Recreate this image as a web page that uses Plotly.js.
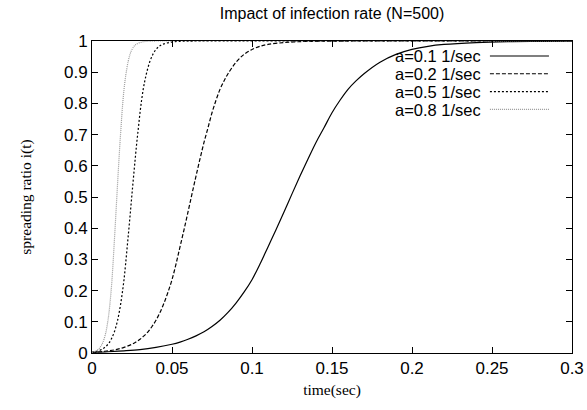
<!DOCTYPE html>
<html>
<head>
<meta charset="utf-8">
<script src="https://cdn.plot.ly/plotly-3.0.1.min.js"></script>
<style>html,body{margin:0;padding:0;background:#fff;}#chart{width:587px;height:410px;}</style>
</head>
<body>
<div id="chart"></div>
<script>
// Series names
var seriesNames = ["a=0.1 1/sec", "a=0.2 1/sec", "a=0.5 1/sec", "a=0.8 1/sec"];

// a=0.1
var t1 = [0,0.01,0.02,0.03,0.04,0.05,0.055,0.06,0.065,0.07,0.075,0.08,0.085,0.09,0.095,0.1,0.105,0.11,0.115,0.12,0.125,0.13,0.135,0.14,0.145,0.15,0.155,0.16,0.165,0.17,0.18,0.19,0.2,0.21,0.22,0.24,0.26,0.28,0.3];
var i1 = [0.002,0.004,0.007,0.011,0.018,0.028,0.035,0.044,0.055,0.068,0.085,0.105,0.13,0.16,0.195,0.235,0.285,0.34,0.395,0.452,0.51,0.567,0.622,0.675,0.722,0.77,0.81,0.845,0.872,0.895,0.932,0.957,0.973,0.983,0.989,0.995,0.998,0.999,0.9997];

// a=0.2
var t2 = [0,0.005,0.01,0.015,0.02,0.025,0.0275,0.03,0.0325,0.035,0.0375,0.04,0.0425,0.045,0.0475,0.05,0.0525,0.055,0.0575,0.06,0.0625,0.065,0.0675,0.07,0.0725,0.075,0.0775,0.08,0.0825,0.085,0.09,0.095,0.1,0.105,0.11,0.12,0.13,0.14,0.15,0.3];
var i2 = [0.002,0.004,0.007,0.011,0.018,0.028,0.035,0.044,0.055,0.068,0.085,0.105,0.13,0.16,0.195,0.235,0.285,0.34,0.395,0.452,0.51,0.567,0.622,0.675,0.722,0.77,0.81,0.845,0.872,0.895,0.932,0.957,0.973,0.983,0.989,0.995,0.998,0.999,0.9997,1.0];

// a=0.5
var t3 = [0,0.002,0.004,0.006,0.008,0.01,0.011,0.012,0.013,0.014,0.015,0.016,0.017,0.018,0.019,0.02,0.021,0.022,0.023,0.024,0.025,0.026,0.027,0.028,0.029,0.03,0.031,0.032,0.033,0.034,0.036,0.038,0.04,0.042,0.044,0.048,0.052,0.056,0.06,0.3];
var i3 = [0.002,0.004,0.007,0.011,0.018,0.028,0.035,0.044,0.055,0.068,0.085,0.105,0.13,0.16,0.195,0.235,0.285,0.34,0.395,0.452,0.51,0.567,0.622,0.675,0.722,0.77,0.81,0.845,0.872,0.895,0.932,0.957,0.973,0.983,0.989,0.995,0.998,0.999,0.9997,1.0];

// a=0.8
var t4 = [0,0.00125,0.0025,0.00375,0.005,0.00625,0.006875,0.0075,0.008125,0.00875,0.009375,0.01,0.010625,0.01125,0.011875,0.0125,0.013125,0.01375,0.014375,0.015,0.015625,0.01625,0.016875,0.0175,0.018125,0.01875,0.019375,0.02,0.020625,0.02125,0.0225,0.02375,0.025,0.02625,0.0275,0.03,0.0325,0.035,0.0375,0.3];
var i4 = [0.002,0.004,0.007,0.011,0.018,0.028,0.035,0.044,0.055,0.068,0.085,0.105,0.13,0.16,0.195,0.235,0.285,0.34,0.395,0.452,0.51,0.567,0.622,0.675,0.722,0.77,0.81,0.845,0.872,0.895,0.932,0.957,0.973,0.983,0.989,0.995,0.998,0.999,0.9997,1.0];

var xTicks = [0,0.05,0.1,0.15,0.2,0.25,0.3];
var xTickText = ["0","0.05","0.1","0.15","0.2","0.25","0.3"];
var yTicks = [0,0.1,0.2,0.3,0.4,0.5,0.6,0.7,0.8,0.9,1];
var yTickText = ["0","0.1","0.2","0.3","0.4","0.5","0.6","0.7","0.8","0.9","1"];

var styles = [
  {color: "#000000", dash: "solid"},
  {color: "#000000", dash: "4px,2px"},
  {color: "#000000", dash: "2px,2px"},
  {color: "#9a9a9a", dash: "1px,1px"}
];

var xs = [t1, t2, t3, t4];
var ys = [i1, i2, i3, i4];

var traces = [];
for (var k = 0; k < 4; k++) {
  traces.push({
    x: xs[k], y: ys[k], name: seriesNames[k], type: "scatter", mode: "lines",
    line: {color: styles[k].color, dash: styles[k].dash, width: 1.2, shape: "spline", smoothing: 1},
    showlegend: false, hoverinfo: "skip"
  });
}

// custom gnuplot-style legend: right-aligned text, sample line on the right
var annotations = [];
var shapes = [];
var rowY = [0.952, 0.895, 0.838, 0.781];
for (var k = 0; k < 4; k++) {
  annotations.push({
    xref: "paper", yref: "paper", x: 0.8125, y: rowY[k], xanchor: "right", yanchor: "middle",
    text: seriesNames[k], showarrow: false, height: 17, borderpad: 0,
    font: {family: "Liberation Sans, Arial, sans-serif", size: 16.5, color: "#000"}
  });
  shapes.push({
    type: "line", xref: "paper", yref: "paper", x0: 0.829, x1: 0.952, y0: rowY[k], y1: rowY[k],
    line: {color: styles[k].color, dash: styles[k].dash, width: 1.2}
  });
}

var axisCommon = {
  showline: true, linecolor: "#000", linewidth: 1, mirror: "ticks",
  ticks: "inside", ticklen: 6, tickwidth: 1, tickcolor: "#000",
  showgrid: false, zeroline: false,
  tickfont: {family: "Liberation Sans, Arial, sans-serif", size: 17, color: "#000"}
};

var layout = {
  width: 587, height: 410,
  margin: {l: 92, r: 15, t: 41, b: 57},
  paper_bgcolor: "#fff", plot_bgcolor: "#fff",
  font: {family: "Liberation Sans, Arial, sans-serif", size: 16, color: "#000"},
  title: {
    text: "Impact of infection rate (N=500)",
    xref: "paper", x: 0.5, xanchor: "center",
    yref: "container", y: 0.968, yanchor: "middle",
    font: {family: "Liberation Sans, Arial, sans-serif", size: 16, color: "#000"}
  },
  xaxis: Object.assign({}, axisCommon, {
    range: [0, 0.3], tickvals: xTicks, ticktext: xTickText,
    title: {text: "time(sec)", standoff: 6, font: {family: "Liberation Serif, Times New Roman, serif", size: 15.5, color: "#000"}}
  }),
  yaxis: Object.assign({}, axisCommon, {
    range: [0, 1], tickvals: yTicks, ticktext: yTickText,
    title: {text: "spreading ratio i(t)", standoff: 28, font: {family: "Liberation Serif, Times New Roman, serif", size: 15.5, color: "#000"}}
  }),
  annotations: annotations,
  shapes: shapes
};

Plotly.newPlot("chart", traces, layout, {staticPlot: true, displayModeBar: false});
</script>
</body>
</html>
